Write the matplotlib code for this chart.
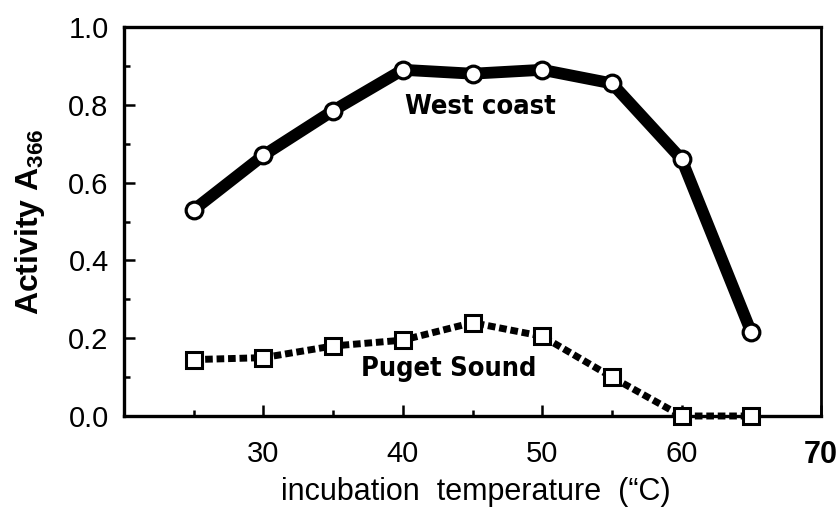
import matplotlib
matplotlib.use("Agg")
import matplotlib.pyplot as plt
from matplotlib.ticker import MultipleLocator

# incubation temperature (degrees C) and activity readings
temps = [25, 30, 35, 40, 45, 50, 55, 60, 65]
west_coast = [0.53, 0.67, 0.785, 0.89, 0.88, 0.89, 0.855, 0.66, 0.215]
puget_sound = [0.145, 0.15, 0.18, 0.195, 0.24, 0.205, 0.10, 0.0, 0.0]

x_ticks = [30, 40, 50, 60, 70]
x_ticklabels = ["30", "40", "50", "60", "70"]
y_ticks = [0.0, 0.2, 0.4, 0.6, 0.8, 1.0]

plt.rcParams["font.family"] = ["Liberation Sans", "DejaVu Sans"]
plt.rcParams["mathtext.fontset"] = "custom"
plt.rcParams["mathtext.rm"] = "Liberation Sans"
plt.rcParams["mathtext.bf"] = "Liberation Sans:bold"

fig = plt.figure(figsize=(8.4, 5.07), dpi=100)
ax = fig.add_axes([0.1476, 0.1795, 0.8298, 0.7672])

ax.plot(temps, west_coast, color="black", linewidth=8.5, solid_capstyle="round",
        marker="o", markersize=12, markerfacecolor="white",
        markeredgecolor="black", markeredgewidth=2.3, zorder=3)
ax.plot(temps, puget_sound, color="black", linewidth=5, linestyle=(0, (1.1, 0.55)),
        marker="s", markersize=11, markerfacecolor="white",
        markeredgecolor="black", markeredgewidth=2.2, zorder=3, clip_on=False)

# series names written next to the curves
ax.text(45.6, 0.795, "West coast", ha="center", va="center", fontsize=19.5,
        fontweight="bold", family="DejaVu Sans", fontstretch="condensed")
ax.text(43.3, 0.12, "Puget Sound", ha="center", va="center", fontsize=19.5,
        fontweight="bold", family="DejaVu Sans", fontstretch="condensed")

ax.set_xlim(20, 70)
ax.set_ylim(0, 1.0)

ax.set_xticks(x_ticks)
ax.set_xticklabels(x_ticklabels)
ax.xaxis.set_minor_locator(MultipleLocator(5))
ax.set_yticks(y_ticks)
ax.set_yticklabels([f"{v:.1f}" for v in y_ticks])
ax.yaxis.set_minor_locator(MultipleLocator(0.1))

ax.tick_params(axis="both", which="major", direction="in", length=8, width=1.8,
               labelsize=21)
ax.tick_params(axis="both", which="minor", direction="in", length=4.5, width=1.8)
ax.tick_params(axis="x", which="both", pad=17, top=False)
ax.tick_params(axis="y", which="both", pad=11, right=False)
last = ax.get_xticklabels()[-1]
last.set_fontweight("bold")
last.set_fontsize(22)

for side in ["left", "bottom", "top"]:
    ax.spines[side].set_linewidth(2.4)
ax.spines["right"].set_linewidth(2.0)

ax.set_xlabel("incubation  temperature  (\u201cC)", fontsize=22)
ax.xaxis.set_label_coords(0.505, -0.216)
ax.xaxis.label.set_va("baseline")
ax.set_ylabel(r"Activity A$_\mathbf{366}$", fontsize=23, fontweight="bold")
ax.yaxis.set_label_coords(-0.135, 0.50)
ax.yaxis.label.set_va("center")

fig.savefig("out.png", dpi=100)
